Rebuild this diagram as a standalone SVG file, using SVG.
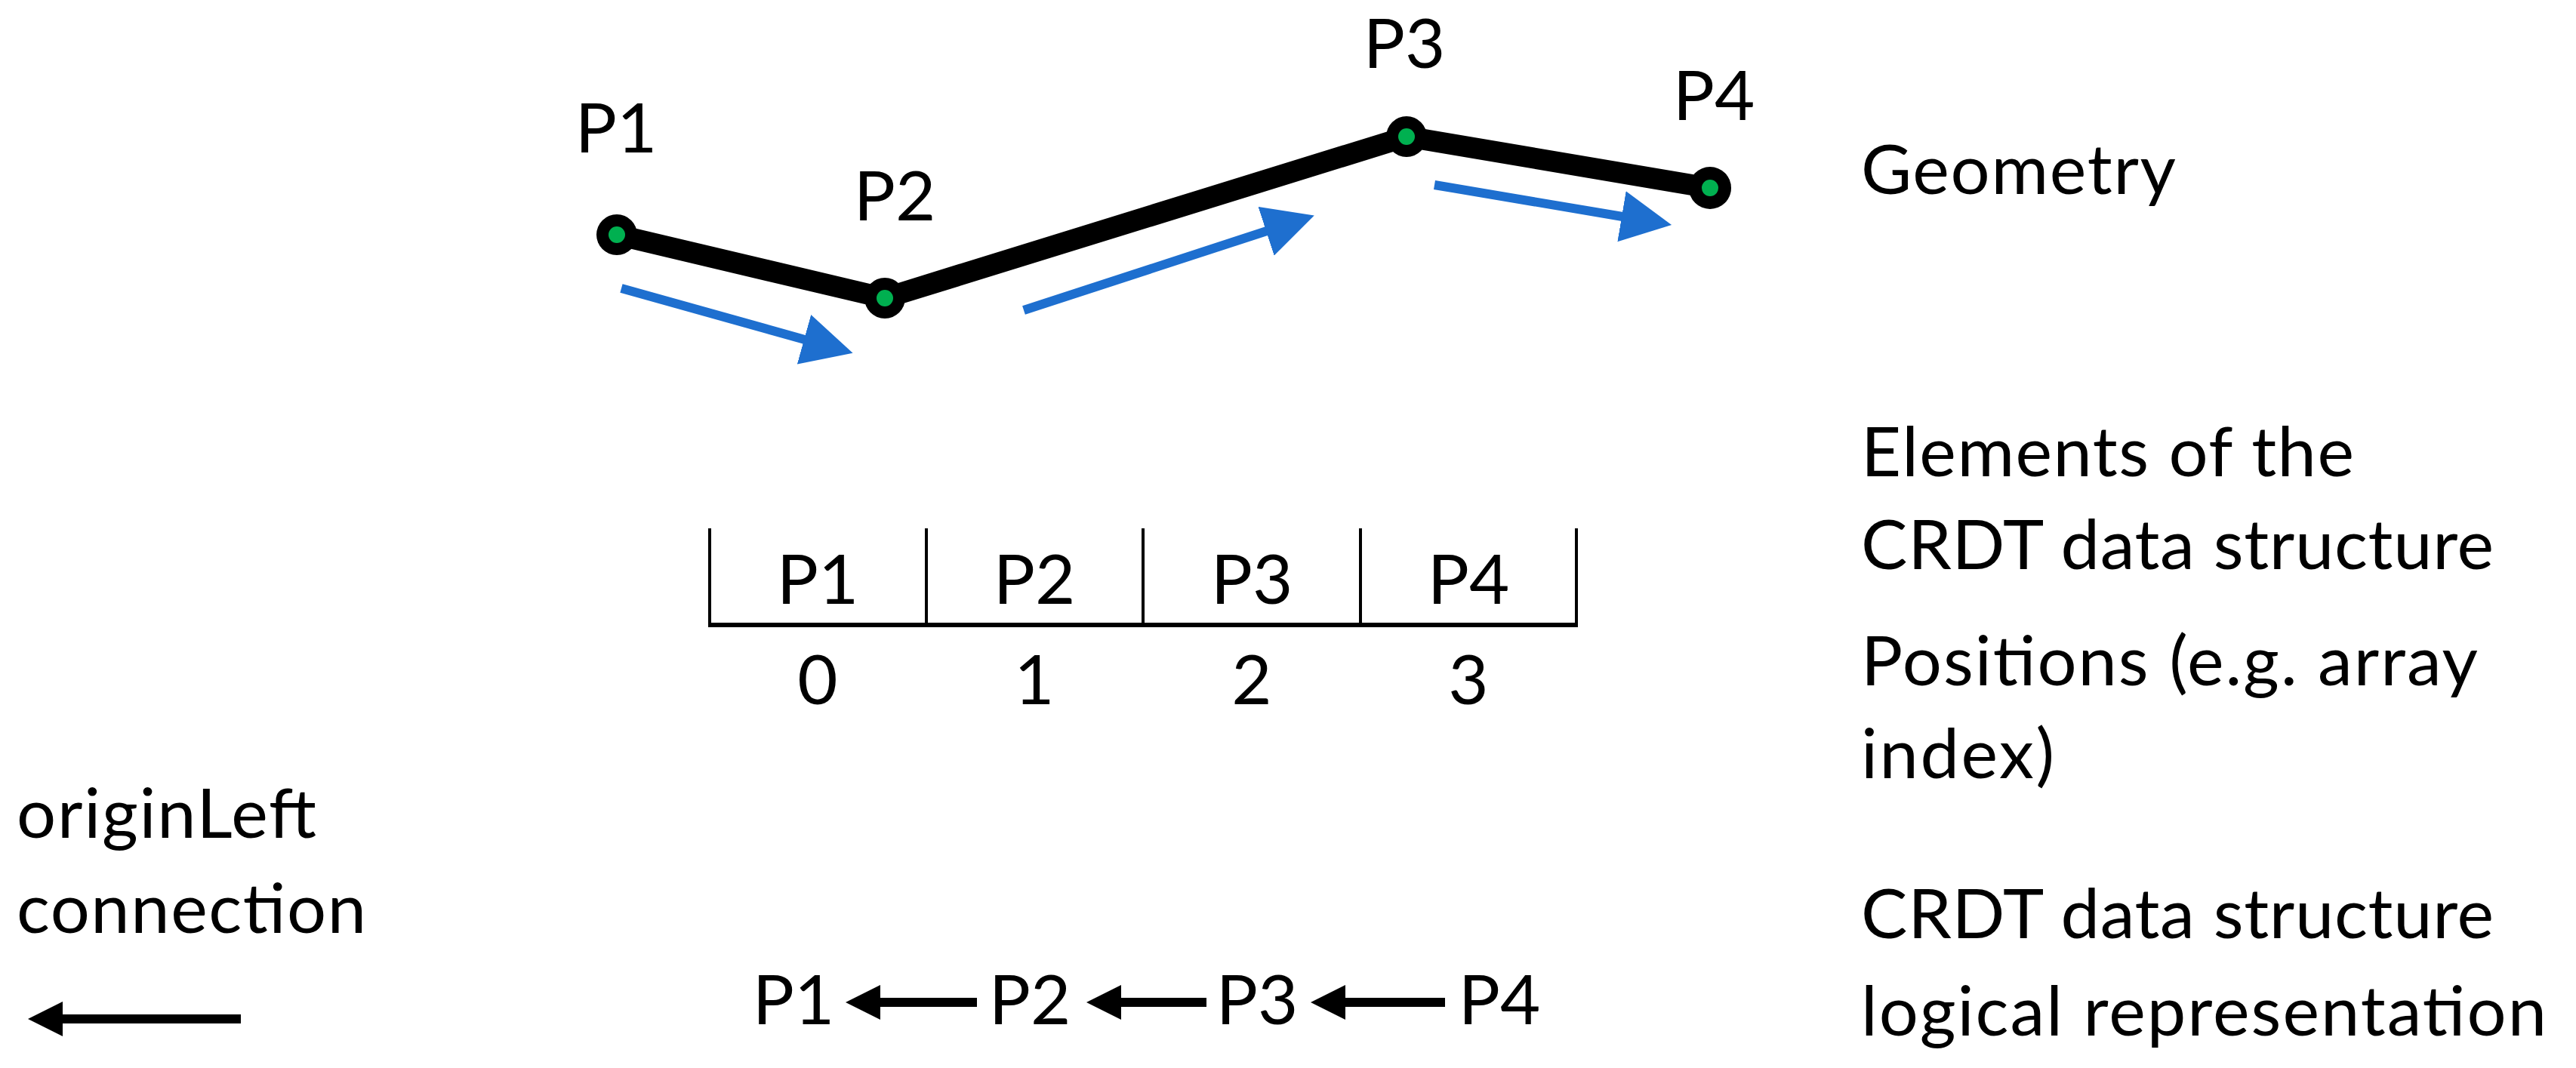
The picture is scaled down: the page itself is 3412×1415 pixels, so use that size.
<svg xmlns="http://www.w3.org/2000/svg" width="3412" height="1415" viewBox="0 0 3412 1415">
  <style>
    text { font-family: "Lato", "Open Sans", "Liberation Sans", sans-serif; font-size: 92px; fill: #000; }
    .mid { text-anchor: middle; }
    .seg { stroke: #000; stroke-width: 28; stroke-linecap: round; fill: none; }
    .ring { fill: #000; }
    .dot { fill: #00b050; }
    .blue { stroke: #1e6fcf; stroke-width: 12; fill: none; }
    .blk { stroke: #000; stroke-width: 12; fill: none; }
    .tbl { stroke: #000; stroke-width: 4; fill: none; }
    .tblbase { stroke: #000; stroke-width: 6; fill: none; }
  </style>
  <defs>
    <marker id="blueHead" markerUnits="userSpaceOnUse" markerWidth="67" markerHeight="68" viewBox="0 0 67 68" refX="1" refY="34" orient="auto">
      <path d="M0,0 L67,34 L0,68 Z" fill="#1e6fcf"/>
    </marker>
    <marker id="blackHead" markerUnits="userSpaceOnUse" markerWidth="46" markerHeight="46" viewBox="0 0 46 46" refX="1" refY="23" orient="auto">
      <path d="M0,0 L46,23 L0,46 Z" fill="#000"/>
    </marker>
  </defs>
  <rect width="3412" height="1415" fill="#fff"/>

  <g id="connectors">
    <g id="geometry-lines">
      <line class="seg" x1="817" y1="311" x2="1172" y2="395"/>
      <line class="seg" x1="1172" y1="395" x2="1863" y2="181"/>
      <line class="seg" x1="1863" y1="181" x2="2265" y2="249"/>
    </g>
    <g id="direction-arrows">
      <line class="blue" x1="823" y1="382" x2="1066" y2="450" marker-end="url(#blueHead)"/>
      <line class="blue" x1="1356" y1="411" x2="1678" y2="306" marker-end="url(#blueHead)"/>
      <line class="blue" x1="1900" y1="245" x2="2149" y2="287" marker-end="url(#blueHead)"/>
    </g>
    <g id="chain-arrows">
      <line class="blk" x1="1294" y1="1328" x2="1165" y2="1328" marker-end="url(#blackHead)"/>
      <line class="blk" x1="1598" y1="1328" x2="1484" y2="1328" marker-end="url(#blackHead)"/>
      <line class="blk" x1="1914" y1="1328" x2="1781" y2="1328" marker-end="url(#blackHead)"/>
    </g>
    <g id="legend-arrow">
      <line class="blk" x1="319" y1="1350" x2="82" y2="1350" marker-end="url(#blackHead)"/>
    </g>
  </g>

  <g id="node-P1">
    <circle class="ring" cx="817" cy="311" r="27"/>
    <circle class="dot" cx="817" cy="311" r="11"/>
    <text class="mid" x="816" y="202">P1</text>
  </g>
  <g id="node-P2">
    <circle class="ring" cx="1172" cy="395" r="27"/>
    <circle class="dot" cx="1172" cy="395" r="11"/>
    <text class="mid" x="1185" y="292">P2</text>
  </g>
  <g id="node-P3">
    <circle class="ring" cx="1863" cy="181" r="27"/>
    <circle class="dot" cx="1863" cy="181" r="11"/>
    <text class="mid" x="1860" y="90">P3</text>
  </g>
  <g id="node-P4">
    <circle class="ring" cx="2265" cy="249" r="28"/>
    <circle class="dot" cx="2265" cy="249" r="11"/>
    <text class="mid" x="2270" y="159">P4</text>
  </g>

  <g id="array-table">
    <line class="tblbase" x1="938" y1="828" x2="2090" y2="828"/>
    <line class="tbl" x1="940" y1="700" x2="940" y2="828"/>
    <line class="tbl" x1="1227" y1="700" x2="1227" y2="828"/>
    <line class="tbl" x1="1514" y1="700" x2="1514" y2="828"/>
    <line class="tbl" x1="1802" y1="700" x2="1802" y2="828"/>
    <line class="tbl" x1="2088" y1="700" x2="2088" y2="828"/>
    <text class="mid" x="1083" y="800">P1</text>
    <text class="mid" x="1370" y="800">P2</text>
    <text class="mid" x="1658" y="800">P3</text>
    <text class="mid" x="1945" y="800">P4</text>
    <text class="mid" x="1083" y="933">0</text>
    <text class="mid" x="1370" y="933">1</text>
    <text class="mid" x="1658" y="933">2</text>
    <text class="mid" x="1945" y="933">3</text>
  </g>

  <g id="chain">
    <text class="mid" x="1051" y="1357">P1</text>
    <text class="mid" x="1364" y="1357">P2</text>
    <text class="mid" x="1665" y="1357">P3</text>
    <text class="mid" x="1986" y="1357">P4</text>
  </g>

  <g id="legend-left">
    <text x="22" y="1110" textLength="397" lengthAdjust="spacing">originLeft</text>
    <text x="22" y="1236" textLength="463" lengthAdjust="spacing">connection</text>
  </g>

  <g id="labels-right">
    <text x="2465" y="257" textLength="417" lengthAdjust="spacing">Geometry</text>
    <text x="2465" y="631" textLength="653" lengthAdjust="spacing">Elements of the</text>
    <text x="2465" y="754" textLength="838" lengthAdjust="spacing">CRDT data structure</text>
    <text x="2465" y="908" textLength="817" lengthAdjust="spacing">Positions (e.g. array</text>
    <text x="2465" y="1031" textLength="256" lengthAdjust="spacing">index)</text>
    <text x="2465" y="1243" textLength="838" lengthAdjust="spacing">CRDT data structure</text>
    <text x="2465" y="1372" textLength="908" lengthAdjust="spacing">logical representation</text>
  </g>
</svg>
